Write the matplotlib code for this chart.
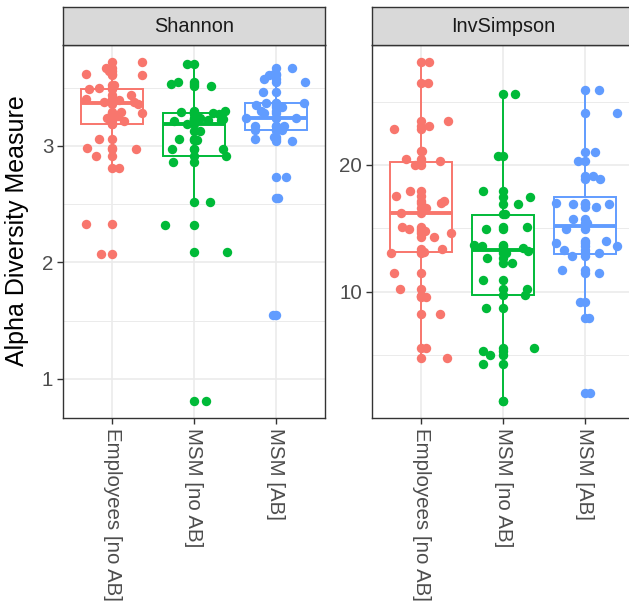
import matplotlib
matplotlib.use("Agg")
import matplotlib.pyplot as plt

plt.rcParams['font.family'] = ['Liberation Sans', 'DejaVu Sans']

groups = ["Employees [no AB]", "MSM [no AB]", "MSM [AB]"]
colors = ["#F8766D", "#00BA38", "#619CFF"]
panels = ["Shannon", "InvSimpson"]

# Shannon index per sample, one list per group, with the horizontal jitter of each point
shannon_emp = [3.72, 3.665, 3.645, 3.62, 3.61, 3.52, 3.50, 3.49, 3.44, 3.40, 3.395, 3.38,
               3.375, 3.36, 3.29, 3.28, 3.26, 3.24, 3.21, 3.19, 3.06, 2.98, 2.97, 2.91,
               2.81, 2.33, 2.075]
shannon_emp_jit = [0.37, -0.08, -0.04, -0.32, 0.37, 0.02, -0.16, -0.28, 0.23, -0.32, 0.09, -0.10,
                   0.27, 0.31, 0.11, 0.37, 0.07, -0.06, 0.15, 0.0, -0.16, -0.31, 0.29, -0.20,
                   0.09, -0.32, -0.14]
shannon_noab = [3.70, 3.55, 3.53, 3.51, 3.30, 3.29, 3.28, 3.27, 3.24, 3.23, 3.22, 3.22,
                3.21, 3.19, 3.13, 3.06, 3.05, 2.97, 2.97, 2.91, 2.86, 2.52, 2.32, 2.09, 0.81]
shannon_noab_jit = [-0.09, -0.20, -0.28, 0.21, 0.38, -0.16, 0.23, 0.31, 0.07, 0.35, 0.17, 0.33,
                    -0.25, -0.08, 0.07, -0.18, 0.04, -0.27, 0.36, 0.39, -0.26, 0.20, -0.36, 0.40, 0.15]
shannon_ab = [3.665, 3.62, 3.61, 3.57, 3.55, 3.46, 3.37, 3.37, 3.35, 3.33, 3.30, 3.28,
              3.235, 3.235, 3.17, 3.17, 3.14, 3.14, 3.08, 3.06, 3.04, 2.73, 2.55, 1.55]
shannon_ab_jit = [0.20, -0.02, -0.08, -0.14, 0.35, -0.16, -0.12, 0.34, -0.24, 0.08, -0.18, -0.14,
                  -0.37, 0.24, -0.26, 0.10, -0.26, 0.08, -0.02, -0.26, 0.20, 0.12, 0.02, -0.04]

# Inverse Simpson index per sample
invs_emp = [28.13, 26.45, 23.5, 23.1, 22.8, 21.1, 20.5, 20.3, 19.98, 17.95, 17.55, 17.16,
            16.98, 16.64, 16.24, 15.14, 14.98, 14.79, 14.66, 14.32, 13.35, 13.13, 13.09,
            11.45, 10.19, 9.66, 9.61, 8.22, 5.59, 4.80]
invs_emp_jit = [0.10, 0.09, 0.33, 0.10, -0.33, 0.01, -0.19, 0.23, -0.08, -0.14, -0.31, 0.28,
                0.24, 0.06, -0.24, -0.23, -0.15, 0.05, 0.37, 0.16, 0.26, 0.04, -0.37,
                -0.33, -0.26, 0.0, 0.06, 0.23, 0.06, 0.31]
invs_noab = [25.58, 20.7, 17.95, 17.5, 16.9, 16.1, 15.14, 14.92, 13.69, 13.6, 13.48, 13.2,
             13.09, 12.63, 12.3, 10.92, 10.24, 9.71, 8.74, 5.59, 5.32, 4.98, 4.27, 1.37]
invs_noab_jit = [0.15, -0.06, -0.25, 0.33, 0.18, 0.02, 0.29, -0.21, -0.36, -0.26, 0.25, 0.31,
                 0.04, -0.19, 0.11, -0.24, 0.29, 0.27, -0.21, 0.38, -0.25, -0.16, -0.25, 0.0]
invs_ab = [25.92, 24.08, 21.03, 20.32, 19.13, 18.92, 16.98, 16.95, 16.9, 16.69, 15.77, 15.4,
           14.93, 14.0, 13.87, 13.6, 13.29, 13.03, 12.82, 11.69, 11.45, 9.19, 7.95, 2.03]
invs_ab_jit = [0.17, 0.39, 0.12, -0.08, 0.10, 0.18, -0.35, 0.30, -0.14, 0.13, -0.15, 0.03,
               -0.23, 0.26, -0.35, 0.39, -0.26, 0.17, -0.16, -0.28, 0.17, -0.06, 0.05, 0.06]

# Box summaries (lower whisker, Q1, median, Q3, upper whisker) per group
shannon_box = {"whislo": [2.81, 2.52, 3.04], "q1": [3.19, 2.91, 3.14],
               "med": [3.37, 3.186, 3.235], "q3": [3.49, 3.28, 3.37],
               "whishi": [3.72, 3.70, 3.665]}
invs_box = {"whislo": [4.80, 1.37, 7.95], "q1": [13.13, 9.71, 12.95],
            "med": [16.24, 13.29, 15.19], "q3": [20.27, 16.03, 17.47],
            "whishi": [28.13, 25.58, 25.92]}

shannon_major = [1, 2, 3]
shannon_minor = [1.5, 2.5, 3.5]
invs_major = [10, 20]
invs_minor = [5, 15, 25]

panel_data = [
    ([shannon_emp, shannon_noab, shannon_ab],
     [shannon_emp_jit, shannon_noab_jit, shannon_ab_jit],
     shannon_box, shannon_major, shannon_minor),
    ([invs_emp, invs_noab, invs_ab],
     [invs_emp_jit, invs_noab_jit, invs_ab_jit],
     invs_box, invs_major, invs_minor),
]

W, H = 629, 608
fig = plt.figure(figsize=(W / 100, H / 100), dpi=100)
fig.patch.set_facecolor("white")

panel_left_px = [63, 372]
panel_w_px = 262
panel_top_px, panel_bot_px = 45, 418
strip_top_px = 7
dark = "#333333"
grey_text = "#4D4D4D"
grid_col = "#EBEBEB"

for p, (name, (vals, jits, box, major, minor)) in enumerate(zip(panels, panel_data)):
    lx = panel_left_px[p]
    ax = fig.add_axes([lx / W, 1 - panel_bot_px / H, panel_w_px / W,
                       (panel_bot_px - panel_top_px) / H])
    ax.set_facecolor("white")

    # boxes
    for g in range(3):
        st = {"whislo": box["whislo"][g], "q1": box["q1"][g], "med": box["med"][g],
              "q3": box["q3"][g], "whishi": box["whishi"][g], "fliers": []}
        ax.bxp([st], positions=[g + 1], widths=0.75, patch_artist=True,
               showfliers=False, showcaps=False,
               boxprops=dict(facecolor="white", edgecolor=colors[g], linewidth=1.4),
               whiskerprops=dict(color=colors[g], linewidth=1.4),
               medianprops=dict(color=colors[g], linewidth=2.8),
               zorder=2)

    # points: one at the group centre and one jittered copy per sample
    for g in range(3):
        v = vals[g]
        j = jits[g]
        ax.scatter([g + 1] * len(v), v, s=46, color=colors[g], linewidths=0, zorder=3)
        ax.scatter([g + 1 + d for d in j], v, s=46, color=colors[g], linewidths=0, zorder=3)

    allv = [x for sub in vals for x in sub]
    lo, hi = min(allv), max(allv)
    pad = 0.05 * (hi - lo)
    ax.set_ylim(lo - pad, hi + pad)
    ax.set_xlim(0.4, 3.6)

    ax.set_yticks(major)
    ax.set_yticklabels([str(m) for m in major])
    ax.set_yticks(minor, minor=True)
    ax.set_xticks([1, 2, 3])
    ax.set_xticklabels(groups, rotation=270, ha="center", va="top")

    ax.grid(True, which="major", color=grid_col, linewidth=1.2, zorder=0)
    ax.grid(True, which="minor", axis="y", color=grid_col, linewidth=0.7, zorder=0)
    ax.set_axisbelow(True)
    ax.tick_params(which="major", length=4, width=1.0, color=dark,
                   labelsize=14.8, labelcolor=grey_text, pad=3)
    ax.tick_params(which="minor", length=0)
    for s in ax.spines.values():
        s.set_color(dark)
        s.set_linewidth(1.0)

    # facet strip
    sax = fig.add_axes([lx / W, 1 - panel_top_px / H, panel_w_px / W,
                        (panel_top_px - strip_top_px) / H])
    sax.set_facecolor("#D9D9D9")
    sax.set_xticks([])
    sax.set_yticks([])
    for s in sax.spines.values():
        s.set_color(dark)
        s.set_linewidth(1.0)
    sax.text(0.5, 0.5, name, transform=sax.transAxes, ha="center", va="center",
             fontsize=14.3, color="#1A1A1A")

fig.text(17 / W, 1 - 231 / H, "Alpha Diversity Measure", rotation=90,
         ha="center", va="center", fontsize=18, color="black")

fig.savefig("out.png", dpi=100)
